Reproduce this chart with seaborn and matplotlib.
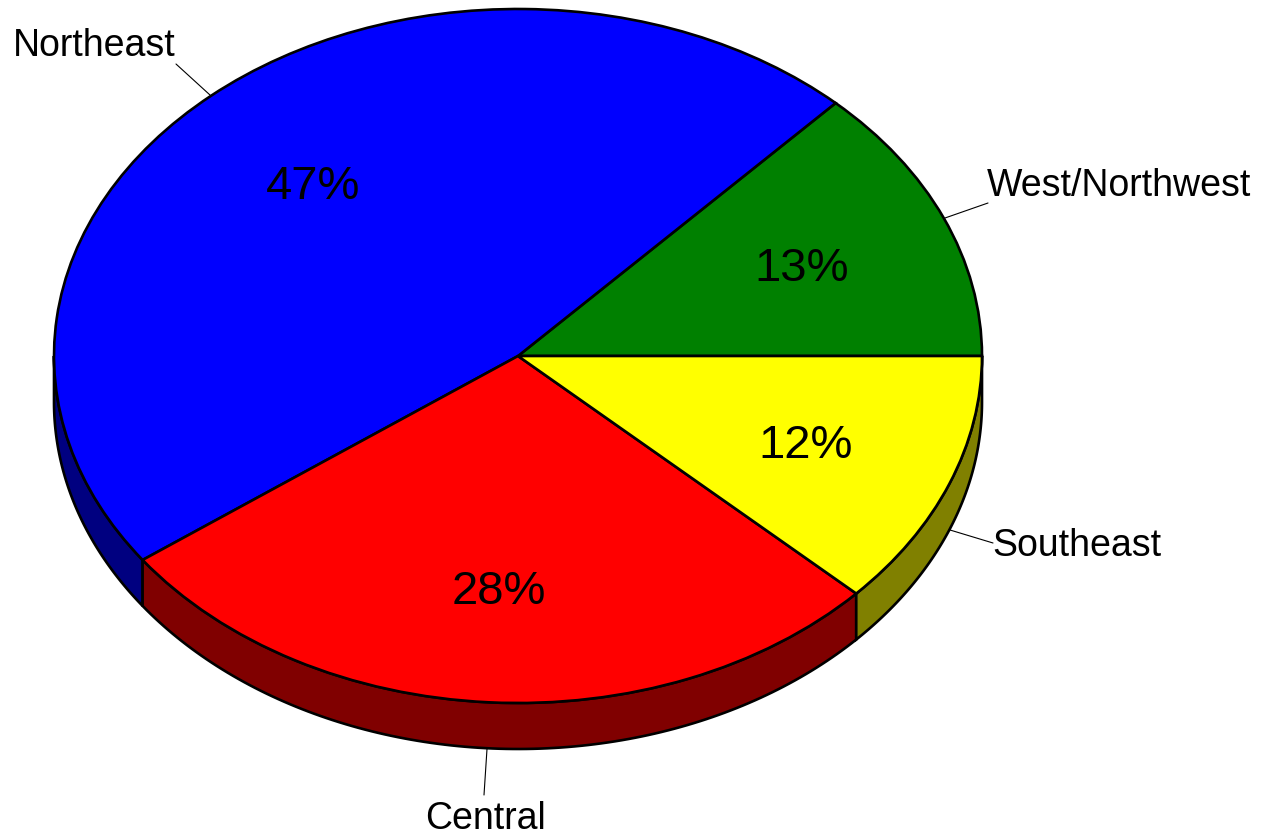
import numpy as np
import matplotlib
matplotlib.use("Agg")
import matplotlib.pyplot as plt
import seaborn as sns

labels = ['West/Northwest', 'Northeast', 'Central', 'Southeast']
values = [13, 47, 28, 12]
top_colors = ['#008000', '#0000ff', '#ff0000', '#ffff00']
side_colors = ['#004000', '#000080', '#800000', '#808000']

sns.set_theme(style='white')
plt.rcParams['font.family'] = ['Liberation Sans', 'DejaVu Sans']

W, H = 1263, 836
CX, CY = 518, 356      # pie centre in pixels
RX, RY = 464, 347      # ellipse radii in pixels
DEPTH = 46 / RY        # pie thickness in data units
EDGE = 1.9


def px(x, y):
    return (x - CX) / RX, (CY - y) / RY


fig = plt.figure(figsize=(W / 100, H / 100), dpi=100)
ax = fig.add_axes([0, 0, 1, 1])

wedges, texts, pcts = ax.pie(values, colors=top_colors, startangle=0, counterclock=True,
                             autopct='%d%%', pctdistance=0.667, radius=1,
                             wedgeprops={'edgecolor': 'black', 'linewidth': EDGE, 'zorder': 3},
                             textprops={'fontsize': 34, 'color': 'black'})
for t in pcts:
    t.set_zorder(5)
    t.set_y(t.get_position()[1] - 5 / RY)

# side wall, only the part of each slice in the lower half shows
edges = np.cumsum([0] + values) / sum(values) * 360
for i in range(len(values)):
    a0, a1 = max(edges[i], 180), edges[i + 1]
    if a1 <= a0:
        continue
    t = np.radians(np.linspace(a0, a1, 120))
    xs = np.r_[np.cos(t), np.cos(t)[::-1]]
    ys = np.r_[np.sin(t), np.sin(t)[::-1] - DEPTH]
    ax.fill(xs, ys, facecolor=side_colors[i], edgecolor='black', linewidth=EDGE, zorder=2)

# outside labels with leader lines
label_pos = {'Northeast': ((94, 46), (176, 64), (210, 95)),
             'West/Northwest': ((1119, 186), (988, 203), (945, 218)),
             'Southeast': ((1077, 546), (993, 543), (950, 530)),
             'Central': ((485, 819), (484, 795), (487, 749))}
for name in labels:
    text_at, line_a, line_b = label_pos[name]
    ax.plot(*zip(px(*line_a), px(*line_b)), color='black', lw=0.8, zorder=1)
    ax.text(*px(*text_at), name, ha='center', va='center', fontsize=27, color='black')

ax.set_aspect('auto')
ax.set_xlim(-CX / RX, (W - CX) / RX)
ax.set_ylim((CY - H) / RY, CY / RY)
ax.axis('off')

fig.savefig('out.png', dpi=100, facecolor='white')
